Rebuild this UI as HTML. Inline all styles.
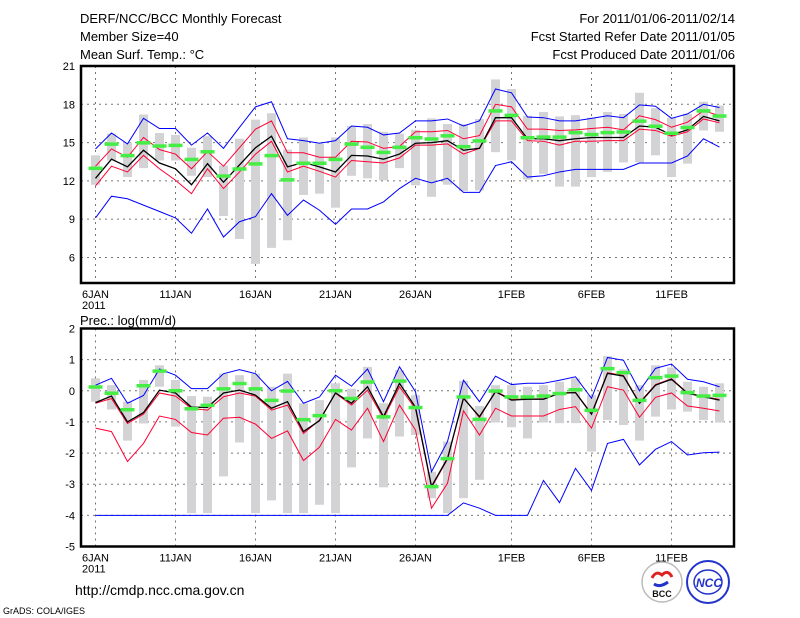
<!DOCTYPE html>
<html><head><meta charset="utf-8"><style>
html,body{margin:0;padding:0;background:#fff;}
svg{display:block;font-family:"Liberation Sans",sans-serif;}
</style></head><body>
<svg id="chart" width="800" height="618" viewBox="0 0 800 618">
<g font-size="13" fill="#000">
<text x="80" y="23">DERF/NCC/BCC Monthly Forecast</text>
<text x="80" y="41">Member Size=40</text>
<text x="80" y="59">Mean Surf. Temp.: °C</text>
<text x="735" y="23" text-anchor="end">For 2011/01/06-2011/02/14</text>
<text x="735" y="41" text-anchor="end">Fcst Started Refer Date 2011/01/05</text>
<text x="735" y="59" text-anchor="end">Fcst Produced Date 2011/01/06</text>
<text x="80" y="325">Prec.: log(mm/d)</text>
</g>
<g id="top"></g>
<g id="bot"></g>
<text x="75" y="595" font-size="14">http://cmdp.ncc.cma.gov.cn</text>
<text x="3" y="614" font-size="9">GrADS: COLA/IGES</text>
<g>
<circle cx="662" cy="582" r="20" fill="#fff" stroke="#bbb" stroke-width="1.5"/>
<path d="M652 578 q4 -8 10 -3 q6 -6 10 2" fill="none" stroke="#d22" stroke-width="3"/>
<path d="M654 584 q6 4 14 -2" fill="none" stroke="#23c" stroke-width="3"/>
<text x="662" y="597" font-size="9" font-weight="bold" text-anchor="middle" fill="#111">BCC</text>
</g>
<g>
<circle cx="708" cy="582" r="21" fill="#fff" stroke="#23c" stroke-width="2"/>
<ellipse cx="708" cy="582" rx="14" ry="12" fill="none" stroke="#23c" stroke-width="1.5"/>
<text x="709" y="587" font-size="12" font-weight="bold" font-style="italic" text-anchor="middle" fill="#23c">NCC</text>
</g>
</svg>
<script>
// ---- Temperature data (days 0..39 = 6JAN..14FEB) ----
const days = Array.from({length:40},(_,i)=>i);
const tBlueHi=[14.5,15.75,14.9,16.9,16.1,16.1,14.8,15.75,14.55,16.2,17.8,18.2,15.3,15.15,14.95,15.15,16.3,16.2,15.6,15.75,16.7,16.7,16.85,16.3,16.7,19.2,18.9,17.0,16.95,16.7,16.7,16.9,17.1,16.95,17.95,17.85,16.9,17.25,18.0,17.75];
const tBlueLo=[9.1,10.8,10.6,10.1,9.6,9.1,7.9,9.8,7.6,8.8,9.2,11.0,9.3,10.5,9.7,8.6,9.8,9.8,10.35,11.4,12.2,11.85,12.2,11.1,11.1,13.2,13.5,12.3,12.4,12.7,12.9,12.9,12.9,12.9,13.4,13.4,13.4,13.95,15.3,14.65];
const tRedHi=[13.15,14.5,13.85,15.4,14.45,14.1,12.95,14.3,13.15,14.6,16.05,16.7,14.2,14.2,13.85,13.85,15.1,15.05,14.55,14.7,15.85,15.85,15.95,15.3,15.55,18.0,17.8,16.05,16.05,15.95,16.0,16.1,16.2,16.0,17.1,16.8,16.2,16.6,17.5,17.1];
const tRedLo=[11.6,13.15,12.7,14.0,12.95,12.05,11.0,12.95,11.4,12.7,14.1,15.1,12.7,13.15,12.75,12.3,13.6,13.5,13.4,13.8,14.8,14.8,14.9,14.1,14.55,16.7,16.7,15.15,15.1,14.8,15.1,15.1,15.15,15.15,16.05,15.95,15.5,15.85,16.85,16.55];
const tMean=[12.2,13.7,13.1,14.4,13.4,12.95,11.7,13.35,11.9,13.25,14.6,15.5,13.1,13.45,13.1,12.7,14.0,13.95,13.7,14.1,14.95,15.0,15.15,14.4,14.55,16.95,16.95,15.3,15.3,15.15,15.3,15.4,15.4,15.4,16.3,16.2,15.6,16.0,17.05,16.7];
const tObs=[13.0,14.9,14.0,15.0,14.75,14.8,13.7,14.3,12.4,12.95,13.35,14.0,12.1,13.4,13.4,13.7,14.9,14.65,14.25,14.65,15.4,15.3,15.55,14.7,15.15,17.5,17.15,15.4,15.45,15.45,15.8,15.65,15.8,15.85,16.7,16.3,15.75,16.2,17.5,17.1];
const tBarHi=[14.0,15.7,15.0,17.2,15.75,15.6,14.6,15.5,13.2,15.3,16.8,17.3,14.45,15.4,14.9,15.4,16.3,16.45,15.85,15.7,16.0,16.9,16.45,16.45,16.85,19.95,19.2,17.1,17.4,17.05,17.15,16.95,17.4,17.25,18.9,17.7,16.95,17.25,18.2,17.9];
const tBarLo=[11.7,13.6,12.3,13.0,13.6,13.6,12.4,12.3,9.25,7.45,5.5,6.75,7.35,10.9,11.0,9.9,12.4,12.2,12.05,13.0,11.65,10.75,11.7,11.2,11.25,14.25,13.6,12.1,12.55,11.55,11.55,12.3,12.7,13.45,13.45,14.0,12.3,13.35,15.95,15.85];
const tTicks=[6,9,12,15,18,21];
// ---- Precipitation data ----
const pBlueHi=[0.18,0.4,-0.4,-0.15,0.7,0.5,0.07,0.07,0.55,0.68,0.55,0,0.3,-0.4,-0.2,0.5,0.15,0.7,-0.35,0.77,-0.03,-2.6,-1.63,0.34,-0.35,0.47,0.2,0.24,0.24,0.34,0.45,-0.24,1.07,0.98,0,0.72,0.86,0.37,0.29,0.13];
const pBlueLo=[-4,-4,-4,-4,-4,-4,-4,-4,-4,-4,-4,-4,-4,-4,-4,-4,-4,-4,-4,-4,-4,-4,-4,-3.6,-3.77,-4,-4,-4,-2.88,-3.59,-2.49,-3.2,-1.69,-1.56,-2.38,-1.88,-1.63,-2.06,-1.99,-1.97];
const pRedHi=[-0.4,-0.25,-1.05,-0.75,-0.07,-0.17,-0.57,-0.62,-0.19,-0.07,-0.17,-0.62,-0.46,-1.37,-0.94,-0.08,-0.46,0.02,-0.88,0.13,-0.58,-3.1,-2.2,-0.22,-0.86,-0.01,-0.28,-0.26,-0.26,-0.07,-0.05,-0.73,0.58,0.49,-0.38,0.2,0.39,-0.07,-0.18,-0.28];
const pRedLo=[-1.2,-1.31,-2.27,-1.69,-0.81,-0.92,-1.34,-1.42,-0.88,-0.85,-1.07,-1.53,-1.29,-2.24,-1.81,-0.92,-1.26,-0.56,-1.63,-0.46,-1.26,-3.77,-2.97,-0.64,-1.42,-0.56,-0.81,-0.81,-0.81,-0.6,-0.51,-1.2,0.13,0.02,-0.85,-0.21,-0.07,-0.49,-0.56,-0.65];
const pMean=[-0.38,-0.17,-1.0,-0.7,0.02,-0.07,-0.53,-0.53,-0.07,0.02,-0.14,-0.56,-0.35,-1.31,-0.96,-0.07,-0.4,0.13,-0.83,0.24,-0.53,-3.07,-2.17,-0.24,-0.83,-0.03,-0.3,-0.27,-0.27,-0.08,-0.06,-0.75,0.56,0.47,-0.4,0.18,0.37,-0.08,-0.19,-0.3];
const pObs=[0.13,-0.07,-0.6,0.17,0.64,0.01,-0.57,-0.46,0.07,0.24,0.07,-0.3,0,-0.92,-0.79,0.01,-0.24,0.29,-0.83,0.32,-0.53,-3.07,-2.17,-0.19,-0.91,0,-0.19,-0.19,-0.16,-0.08,0.04,-0.62,0.72,0.59,-0.3,0.43,0.48,-0.05,-0.16,-0.14];
const pBarHi=[0.4,0.18,-0.35,0.35,0.82,0.35,-0.17,-0.19,0.55,0.5,0.55,0.13,0.55,-0.4,-0.3,0.24,0.07,0.77,-0.4,0.66,-0.14,-2.6,-1.63,0.32,-0.49,0.18,0.18,0.13,0.18,0.29,0.4,-0.14,1.11,0.69,0.18,0.82,0.75,0.29,0.13,0.24];
const pBarLo=[-0.35,-0.6,-1.6,-1.05,0.13,-1.15,-3.93,-3.93,-2.75,-1.66,-3.93,-3.52,-3.93,-3.93,-3.66,-3.93,-2.46,-1.53,-3.1,-1.47,-1.42,-3.45,-3.93,-3.45,-2.86,-1.02,-1.17,-1.53,-1.02,-1.04,-1.04,-1.95,-0.94,-1.1,-1.6,-0.83,-0.6,-0.67,-0.94,-1.02];
const pTicks=[-5,-4,-3,-2,-1,0,1,2];
const xTickDays=[0,5,10,15,20,26,31,36];
const xTickLabels=['6JAN','11JAN','16JAN','21JAN','26JAN','1FEB','6FEB','11FEB'];

const NS='http://www.w3.org/2000/svg';
function mk(parent,tag,attrs){const e=document.createElementNS(NS,tag);for(const k in attrs)e.setAttribute(k,attrs[k]);parent.appendChild(e);return e;}
const L=81,R=734;
function xS(d){return 95.5+16*d;}

function panel(g,top,bot,vmin,vmax,ticks,d){
  const yS=v=>bot-(v-vmin)/(vmax-vmin)*(bot-top);
  // grid
  xTickDays.forEach((dd,i)=>{
    const ln=mk(g,'line',{x1:xS(dd),x2:xS(dd),y1:top,y2:bot,stroke:'#777','stroke-dasharray':'2,4','stroke-width':1});
    
    
    const t=mk(g,'text',{x:xS(dd),y:bot+15,'font-size':11,'text-anchor':'middle'});
    t.textContent=xTickLabels[i];
    
    
  });
  const yr=mk(g,'text',{x:82,y:bot+26,'font-size':11});yr.textContent='2011';
  
  
  ticks.forEach(v=>{
    if(v>vmin&&v<vmax){const ln=mk(g,'line',{x1:L,x2:R,y1:yS(v),y2:yS(v),stroke:'#777','stroke-dasharray':'2,4'});
    
    }
    const t=mk(g,'text',{x:L-6,y:yS(v)+4,'font-size':11,'text-anchor':'end'});t.textContent=v;
    
    
  });
  // bars
  days.forEach(i=>{
    const r=mk(g,'rect',{x:xS(i)-4.5,y:yS(d.bh[i]),width:9,height:Math.max(1,yS(d.bl[i])-yS(d.bh[i])),fill:'#d3d3d6'});
    
    
  });
  function line(arr,col,w,name){
    const p=mk(g,'polyline',{points:days.map(i=>xS(i)+','+yS(arr[i])).join(' '),fill:'none',stroke:col,'stroke-width':w});
    
    
  }
  line(d.blo,'#0000ff',1,'min-line');
  line(d.bhi,'#0000ff',1,'max-line');
  line(d.rlo,'#ff0033',1,'lower-spread-line');
  line(d.rhi,'#ff0033',1,'upper-spread-line');
  line(d.mean,'#000',1.3,'ensemble-mean-line');
  days.forEach(i=>{
    const r=mk(g,'rect',{x:xS(i)-7,y:yS(d.obs[i])-1.5,width:14,height:3.5,fill:'#44ee44'});
    
    
  });
  const b=mk(g,'rect',{x:L,y:top,width:R-L,height:bot-top,fill:'none',stroke:'#000','stroke-width':2.5});
  
  
}
panel(document.getElementById('top'),66,283,4,21,tTicks,{bh:tBarHi,bl:tBarLo,bhi:tBlueHi,blo:tBlueLo,rhi:tRedHi,rlo:tRedLo,mean:tMean,obs:tObs});
panel(document.getElementById('bot'),328.5,546.5,-5,2,pTicks,{bh:pBarHi,bl:pBarLo,bhi:pBlueHi,blo:pBlueLo,rhi:pRedHi,rlo:pRedLo,mean:pMean,obs:pObs});
</script>
</body></html>
